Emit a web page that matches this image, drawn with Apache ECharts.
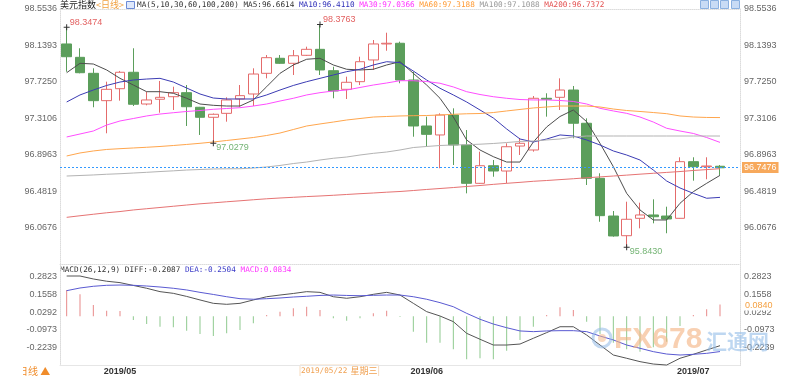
<!DOCTYPE html>
<html>
<head>
<meta charset="utf-8">
<title>美元指数 日线</title>
<script src="https://cdn.jsdelivr.net/npm/echarts@6/dist/echarts.min.js"></script>
<style>
  html, body { margin: 0; padding: 0; background: #fff; }
  #chart { width: 800px; height: 376px; }
</style>
</head>
<body>
<div id="chart"></div>
<script>
  // 交易日
  var dates = [
    '2019-04-25', '2019-04-26', '2019-04-29', '2019-04-30', '2019-05-01', '2019-05-02', '2019-05-03',
    '2019-05-06', '2019-05-07', '2019-05-08', '2019-05-09', '2019-05-10', '2019-05-13', '2019-05-14',
    '2019-05-15', '2019-05-16', '2019-05-17', '2019-05-20', '2019-05-21', '2019-05-22', '2019-05-23',
    '2019-05-24', '2019-05-27', '2019-05-28', '2019-05-29', '2019-05-30', '2019-05-31', '2019-06-03',
    '2019-06-04', '2019-06-05', '2019-06-06', '2019-06-07', '2019-06-10', '2019-06-11', '2019-06-12',
    '2019-06-13', '2019-06-14', '2019-06-17', '2019-06-18', '2019-06-19', '2019-06-20', '2019-06-21',
    '2019-06-24', '2019-06-25', '2019-06-26', '2019-06-27', '2019-06-28', '2019-07-01', '2019-07-02',
    '2019-07-03'
  ];
  // 月份刻度
  var monthLabels = { '2019-05-01': '2019/05', '2019-06-03': '2019/06', '2019-07-01': '2019/07' };

  // K线 开 收 低 高
  var opens = [98.156, 98.004, 97.822, 97.511, 97.647, 97.834, 97.473, 97.527, 97.556, 97.602,
    97.436, 97.322, 97.367, 97.530, 97.587, 97.822, 97.993, 97.936, 98.027, 98.095,
    97.852, 97.640, 97.727, 97.974, 98.156, 98.164, 97.746, 97.223, 97.121, 97.348,
    97.007, 96.571, 96.771, 96.711, 96.995, 96.950, 97.538, 97.549, 97.632, 97.254,
    96.628, 96.199, 95.975, 96.173, 96.211, 96.199, 96.173, 96.817, 96.760, 96.765];
  var closes = [98.011, 97.829, 97.511, 97.640, 97.834, 97.470, 97.519, 97.549, 97.602, 97.442,
    97.322, 97.356, 97.519, 97.568, 97.814, 98.000, 97.936, 98.022, 98.095, 97.860,
    97.621, 97.720, 97.954, 98.156, 98.164, 97.746, 97.223, 97.128, 97.348, 97.007,
    96.571, 96.771, 96.711, 96.987, 97.026, 97.538, 97.527, 97.632, 97.254, 96.628,
    96.203, 95.972, 96.162, 96.211, 96.191, 96.165, 96.817, 96.760, 96.768, 96.7476];
  var lows = [97.840, 97.822, 97.436, 97.140, 97.511, 97.450, 97.458, 97.374, 97.405, 97.223,
    97.121, 97.0279, 97.272, 97.442, 97.450, 97.765, 97.930, 97.803, 98.019, 97.803,
    97.538, 97.530, 97.689, 97.860, 98.079, 97.709, 97.101, 96.988, 96.742, 96.779,
    96.457, 96.565, 96.646, 96.571, 96.893, 96.931, 97.329, 97.405, 97.083, 96.552,
    96.134, 95.964, 95.843, 96.059, 96.116, 96.003, 96.170, 96.601, 96.617, 96.666];
  var highs = [98.3474, 98.107, 97.879, 97.727, 97.849, 98.107, 97.613, 97.735, 97.670, 97.689,
    97.440, 97.365, 97.549, 97.689, 97.879, 98.030, 98.030, 98.087, 98.125, 98.3763,
    97.897, 97.784, 98.011, 98.201, 98.284, 98.182, 97.841, 97.329, 97.367, 97.424,
    97.177, 96.931, 96.836, 97.026, 97.087, 97.564, 97.595, 97.765, 97.678, 97.310,
    96.685, 96.256, 96.362, 96.351, 96.389, 96.305, 96.867, 96.867, 96.867, 96.779];

  // 均线
  var ma5 = [97.829, 97.936, 97.928, 97.860, 97.765, 97.689, 97.613, 97.613, 97.595, 97.538,
    97.473, 97.458, 97.450, 97.450, 97.519, 97.670, 97.822, 97.917, 97.982, 97.993,
    97.917, 97.868, 97.860, 97.868, 97.917, 97.954, 97.822, 97.689, 97.538, 97.325,
    97.064, 96.950, 96.874, 96.813, 96.813, 97.041, 97.212, 97.331, 97.405, 97.272,
    97.026, 96.760, 96.457, 96.268, 96.154, 96.154, 96.344, 96.476, 96.571, 96.6614];
  var ma10 = [97.496, 97.576, 97.632, 97.684, 97.723, 97.746, 97.757, 97.765, 97.723, 97.655,
    97.587, 97.541, 97.530, 97.530, 97.530, 97.576, 97.632, 97.684, 97.727, 97.765,
    97.803, 97.841, 97.868, 97.917, 97.954, 97.943, 97.848, 97.746, 97.652, 97.576,
    97.496, 97.405, 97.314, 97.189, 97.075, 97.041, 97.075, 97.121, 97.109, 97.064,
    97.007, 96.939, 96.893, 96.836, 96.722, 96.597, 96.518, 96.457, 96.401, 96.4110];
  var ma30 = [97.098, 97.132, 97.166, 97.234, 97.280, 97.308, 97.337, 97.359, 97.374, 97.388,
    97.399, 97.413, 97.422, 97.431, 97.450, 97.473, 97.507, 97.538, 97.576, 97.602,
    97.621, 97.632, 97.661, 97.689, 97.712, 97.738, 97.738, 97.729, 97.709, 97.667,
    97.613, 97.581, 97.556, 97.538, 97.524, 97.519, 97.519, 97.513, 97.502, 97.473,
    97.424, 97.394, 97.367, 97.325, 97.268, 97.197, 97.166, 97.138, 97.092, 97.0366];
  var ma60 = [96.882, 96.916, 96.939, 96.956, 96.965, 96.973, 96.981, 96.990, 97.001, 97.013,
    97.026, 97.041, 97.058, 97.075, 97.092, 97.115, 97.143, 97.183, 97.223, 97.246,
    97.268, 97.291, 97.308, 97.325, 97.331, 97.337, 97.340, 97.342, 97.348, 97.356,
    97.362, 97.365, 97.376, 97.394, 97.411, 97.428, 97.439, 97.450, 97.450, 97.450,
    97.439, 97.416, 97.399, 97.388, 97.376, 97.363, 97.337, 97.325, 97.320, 97.3188];
  var ma100 = [96.654, 96.660, 96.666, 96.674, 96.680, 96.688, 96.696, 96.705, 96.713, 96.722,
    96.728, 96.734, 96.736, 96.737, 96.745, 96.757, 96.774, 96.796, 96.813, 96.836,
    96.856, 96.870, 96.893, 96.912, 96.927, 96.950, 96.978, 96.990, 97.001, 97.007,
    97.010, 97.016, 97.024, 97.035, 97.047, 97.052, 97.064, 97.075, 97.098, 97.109,
    97.109, 97.109, 97.109, 97.109, 97.109, 97.109, 97.109, 97.109, 97.109, 97.1088];
  var ma200 = [96.184, 96.202, 96.219, 96.236, 96.250, 96.268, 96.282, 96.296, 96.310, 96.324,
    96.338, 96.349, 96.361, 96.372, 96.384, 96.395, 96.404, 96.412, 96.420, 96.427,
    96.435, 96.444, 96.453, 96.461, 96.470, 96.478, 96.489, 96.501, 96.512, 96.523,
    96.535, 96.546, 96.559, 96.571, 96.582, 96.594, 96.603, 96.613, 96.623, 96.634,
    96.644, 96.654, 96.664, 96.675, 96.685, 96.695, 96.705, 96.717, 96.727, 96.7372];

  // MACD(26,12,9)
  var diff = [0.286, 0.286, 0.265, 0.249, 0.239, 0.219, 0.199, 0.175, 0.163, 0.141,
    0.116, 0.092, 0.085, 0.092, 0.116, 0.139, 0.151, 0.162, 0.175, 0.170,
    0.139, 0.128, 0.139, 0.156, 0.170, 0.151, 0.092, 0.033, 0.002, -0.038,
    -0.121, -0.163, -0.204, -0.204, -0.197, -0.156, -0.116, -0.074, -0.074, -0.133,
    -0.204, -0.275, -0.298, -0.322, -0.339, -0.346, -0.298, -0.270, -0.239, -0.2087];
  var dea = [0.182, 0.201, 0.213, 0.220, 0.222, 0.220, 0.215, 0.208, 0.199, 0.187,
    0.170, 0.155, 0.139, 0.125, 0.121, 0.125, 0.130, 0.137, 0.142, 0.148,
    0.151, 0.148, 0.146, 0.149, 0.151, 0.151, 0.139, 0.121, 0.097, 0.068,
    0.021, -0.021, -0.055, -0.081, -0.104, -0.109, -0.104, -0.102, -0.102, -0.109,
    -0.140, -0.168, -0.204, -0.227, -0.251, -0.268, -0.275, -0.270, -0.263, -0.2504];
  var macd = [0.187, 0.156, 0.080, 0.040, 0.038, -0.026, -0.055, -0.074, -0.078, -0.102,
    -0.126, -0.140, -0.121, -0.097, -0.050, 0.009, 0.033, 0.057, 0.068, 0.045,
    -0.014, -0.031, -0.014, 0.021, 0.040, -0.005, -0.109, -0.187, -0.187, -0.234,
    -0.305, -0.298, -0.305, -0.244, -0.168, -0.074, 0.009, 0.064, 0.045, -0.038,
    -0.126, -0.187, -0.234, -0.251, -0.220, -0.180, -0.069, 0.009, 0.050, 0.0834];

  // 坐标刻度
  var priceTicks = [96.0676, 96.4819, 96.8963, 97.3106, 97.7250, 98.1393, 98.5536];
  var priceRange = [95.6533, 98.5536];
  var macdTicks = [-0.2239, -0.0973, 0.0292, 0.1558, 0.2823];
  var macdRange = [-0.3504, 0.3713];
  var macdTag = 0.0840;

  // 高低点标注
  var extremes = [
    { i: 0, type: 'high' }, { i: 19, type: 'high' },
    { i: 11, type: 'low' }, { i: 42, type: 'low' }
  ];

  var FONT = '"Liberation Sans", Arial, sans-serif';
  var MONO = '"DejaVu Sans Mono", "Liberation Mono", monospace';
  var CJK = '"Noto Sans CJK SC", sans-serif';
  var UP = '#e46b6b', DOWN = '#5b9e5b';

  var cats = dates.concat(['']);
  var candles = dates.map(function (d, i) { return [opens[i], closes[i], lows[i], highs[i]]; });
  var last = dates.length - 1;

  var marks = extremes.map(function (e) {
    var hi = e.type === 'high';
    var v = hi ? highs[e.i] : lows[e.i];
    return {
      coord: [e.i, v],
      value: v,
      label: { position: hi ? [6, -2] : [6, 7.5], color: hi ? '#e36161' : '#74b474' }
    };
  });

  function yAx(grid, pos, range, ticks) {
    return {
      type: 'value', gridIndex: grid, position: pos, min: range[0], max: range[1],
      axisLine: { show: true, lineStyle: { color: '#dcdcdc', type: 'dotted' } },
      axisTick: { show: false, customValues: ticks },
      splitLine: { show: false },
      axisLabel: {
        customValues: ticks, color: '#666', fontSize: 9, fontFamily: FONT,
        margin: pos === 'left' ? 3 : 4,
        formatter: function (v) { return v.toFixed(4); }
      }
    };
  }

  var chart = echarts.init(document.getElementById('chart'));
  chart.setOption({
    animation: false,
    backgroundColor: '#fff',
    grid: [
      { left: 60, right: 60, top: 9, height: 255 },
      { left: 60, right: 60, top: 264, height: 101.65 }
    ],
    xAxis: [
      {
        type: 'category', gridIndex: 0, data: cats, position: 'top',
        axisLine: { show: true, onZero: false, lineStyle: { color: '#dcdcdc', type: 'dotted' } },
        axisTick: { show: false }, axisLabel: { show: false }, splitLine: { show: false }
      },
      {
        type: 'category', gridIndex: 1, data: cats, position: 'bottom',
        axisLine: { show: true, onZero: false, lineStyle: { color: '#e6e6e6' } },
        axisTick: { show: false }, splitLine: { show: false },
        axisLabel: {
          color: '#333', fontSize: 9, fontWeight: 'bold', fontFamily: FONT, margin: 1,
          interval: function (idx, val) { return monthLabels[val] !== undefined; },
          formatter: function (val) { return monthLabels[val] || ''; }
        }
      },
      {
        type: 'category', gridIndex: 1, data: cats, position: 'top',
        axisLine: { show: true, onZero: false, lineStyle: { color: '#dcdcdc', type: 'dotted' } },
        axisTick: { show: false }, axisLabel: { show: false }
      }
    ],
    yAxis: [
      yAx(0, 'left', priceRange, priceTicks),
      yAx(0, 'right', priceRange, priceTicks),
      yAx(1, 'left', macdRange, macdTicks),
      yAx(1, 'right', macdRange, macdTicks)
    ],
    series: [
      {
        name: '美元指数', type: 'candlestick', xAxisIndex: 0, yAxisIndex: 0,
        data: candles, barWidth: 10,
        itemStyle: { color: '#fff', color0: DOWN, borderColor: UP, borderColor0: DOWN, borderWidth: 1 },
        markPoint: {
          symbol: 'path://M0,2.5h6v1h-6z M2.5,0h1v6h-1z', symbolSize: 6,
          itemStyle: { color: '#333' },
          label: {
            show: true, fontSize: 9, fontFamily: FONT, align: 'left', verticalAlign: 'middle',
            formatter: function (p) { return p.value.toFixed(4); }
          },
          data: marks
        },
        markLine: {
          silent: true, symbol: 'none',
          lineStyle: { color: '#3399ff', type: [2, 2], width: 1 },
          label: {
            position: 'end', distance: 2, color: '#fff', backgroundColor: '#f7a95c',
            padding: [1, 2], fontSize: 9, fontFamily: FONT,
            formatter: function () { return closes[last].toFixed(4); }
          },
          data: [{ yAxis: closes[last] }]
        }
      },
      { name: 'MA5', type: 'line', data: ma5, symbol: 'none', lineStyle: { color: '#4d4d4d', width: 1 } },
      { name: 'MA10', type: 'line', data: ma10, symbol: 'none', lineStyle: { color: '#3c3cb4', width: 1 } },
      { name: 'MA30', type: 'line', data: ma30, symbol: 'none', lineStyle: { color: '#ff4dff', width: 1 } },
      { name: 'MA60', type: 'line', data: ma60, symbol: 'none', lineStyle: { color: '#ffa64d', width: 1 } },
      { name: 'MA100', type: 'line', data: ma100, symbol: 'none', lineStyle: { color: '#b3b3b3', width: 1 } },
      { name: 'MA200', type: 'line', data: ma200, symbol: 'none', lineStyle: { color: '#e67373', width: 1 } },
      {
        name: 'MACD', type: 'bar', xAxisIndex: 1, yAxisIndex: 2, data: macd, barWidth: 1,
        itemStyle: { color: function (p) { return p.value >= 0 ? '#e88a8a' : '#8fca8f'; } },
        markLine: {
          silent: true, symbol: 'none', z: 10,
          lineStyle: { color: 'rgba(0,0,0,0)', width: 0 },
          label: {
            position: 'end', distance: 4, color: '#f5a142', backgroundColor: '#fff',
            padding: [1, 1], fontSize: 9, fontFamily: FONT,
            formatter: function () { return macdTag.toFixed(4); }
          },
          data: [{ yAxis: macdTag }]
        }
      },
      { name: 'DIFF', type: 'line', xAxisIndex: 1, yAxisIndex: 2, data: diff, symbol: 'none', lineStyle: { color: '#555', width: 1 } },
      { name: 'DEA', type: 'line', xAxisIndex: 1, yAxisIndex: 2, data: dea, symbol: 'none', lineStyle: { color: '#5a5ad2', width: 1 } }
    ],
    graphic: [
      {
        type: 'text', x: 60, y: 4.5,
        style: {
          text: '{a|美元指数}{b|<日线>}', verticalAlign: 'middle', font: '9px ' + CJK,
          rich: { a: { fill: '#222', font: '9px ' + CJK }, b: { fill: '#f0a040', font: '9px ' + CJK } }
        }
      },
      { type: 'rect', shape: { x: 126.5, y: 1.5, width: 8, height: 7 }, style: { fill: '#dfe8fb', stroke: '#6c8bd6', lineWidth: 1 } },
      {
        type: 'text', x: 137, y: 5,
        style: {
          text: '{k|MA(5,10,30,60,100,200)} {a|MA5:' + ma5[last].toFixed(4) + '} {b|MA10:' + ma10[last].toFixed(4) +
            '} {c|MA30:' + ma30[last].toFixed(4) + '} {d|MA60:' + ma60[last].toFixed(4) +
            '} {e|MA100:' + ma100[last].toFixed(4) + '} {f|MA200:' + ma200[last].toFixed(4) + '}',
          verticalAlign: 'middle', font: '7.7px ' + MONO,
          rich: {
            k: { fill: '#333', font: '7.7px ' + MONO }, a: { fill: '#333', font: '7.7px ' + MONO },
            b: { fill: '#2e2eb8', font: '7.7px ' + MONO }, c: { fill: '#ff33ff', font: '7.7px ' + MONO },
            d: { fill: '#ff9a33', font: '7.7px ' + MONO }, e: { fill: '#999', font: '7.7px ' + MONO },
            f: { fill: '#e35050', font: '7.7px ' + MONO }
          }
        }
      },
      {
        type: 'text', x: 60, y: 270,
        style: {
          text: '{k|MACD(26,12,9) DIFF:' + diff[last].toFixed(4) + '} {b|DEA:' + dea[last].toFixed(4) +
            '} {c|MACD:' + macd[last].toFixed(4) + '}',
          verticalAlign: 'middle', font: '7.7px ' + MONO,
          rich: {
            k: { fill: '#333', font: '7.7px ' + MONO },
            b: { fill: '#3c3cc8', font: '7.7px ' + MONO },
            c: { fill: '#ff33ff', font: '7.7px ' + MONO }
          }
        }
      },
      // 工具按钮
      { type: 'rect', shape: { x: 700.5, y: 0.5, width: 8, height: 8 }, style: { fill: '#c8dbf5', stroke: '#8ab0e0' } },
      { type: 'rect', shape: { x: 710.5, y: 0.5, width: 8, height: 8 }, style: { fill: '#c8dbf5', stroke: '#8ab0e0' } },
      { type: 'rect', shape: { x: 720.5, y: 0.5, width: 8, height: 8 }, style: { fill: '#c8dbf5', stroke: '#8ab0e0' } },
      { type: 'rect', shape: { x: 731.5, y: 0.5, width: 8, height: 8 }, style: { fill: '#c8dbf5', stroke: '#8ab0e0' } },
      // 底部
      { type: 'text', x: 18, y: 371, style: { text: '日线 ▲', fill: '#f08c2a', font: '10px ' + CJK, verticalAlign: 'middle' } },
      { type: 'rect', shape: { x: 0, y: 366, width: 23, height: 10 }, style: { fill: '#fff' }, z: 200 },
      {
        type: 'text', x: 300, y: 371,
        style: {
          text: '{d|2019/05/22} {w|星期三}', verticalAlign: 'middle', fill: '#f0a050',
          borderColor: '#f6dcc0', borderWidth: 1, padding: [0, 1],
          rich: { d: { fill: '#f0a050', font: '7.7px ' + MONO }, w: { fill: '#f0a050', font: '9px ' + CJK } }
        }
      },
      // 水印
      { type: 'circle', shape: { cx: 602, cy: 338, r: 9 }, style: { fill: 'none', stroke: '#8fb8e6', lineWidth: 3, opacity: 0.55 }, z: 100 },
      { type: 'circle', shape: { cx: 602, cy: 338, r: 4 }, style: { fill: '#f5b98a', opacity: 0.55 }, z: 100 },
      { type: 'text', x: 614, y: 340, style: { text: 'FX678', fill: '#f4b07e', opacity: 0.6, font: 'bold 30px ' + FONT, verticalAlign: 'middle' }, z: 100 },
      { type: 'text', x: 706, y: 341, style: { text: '汇通网', fill: '#93bde8', opacity: 0.6, font: 'bold 21px ' + CJK, verticalAlign: 'middle' }, z: 100 }
    ]
  });
</script>
</body>
</html>
